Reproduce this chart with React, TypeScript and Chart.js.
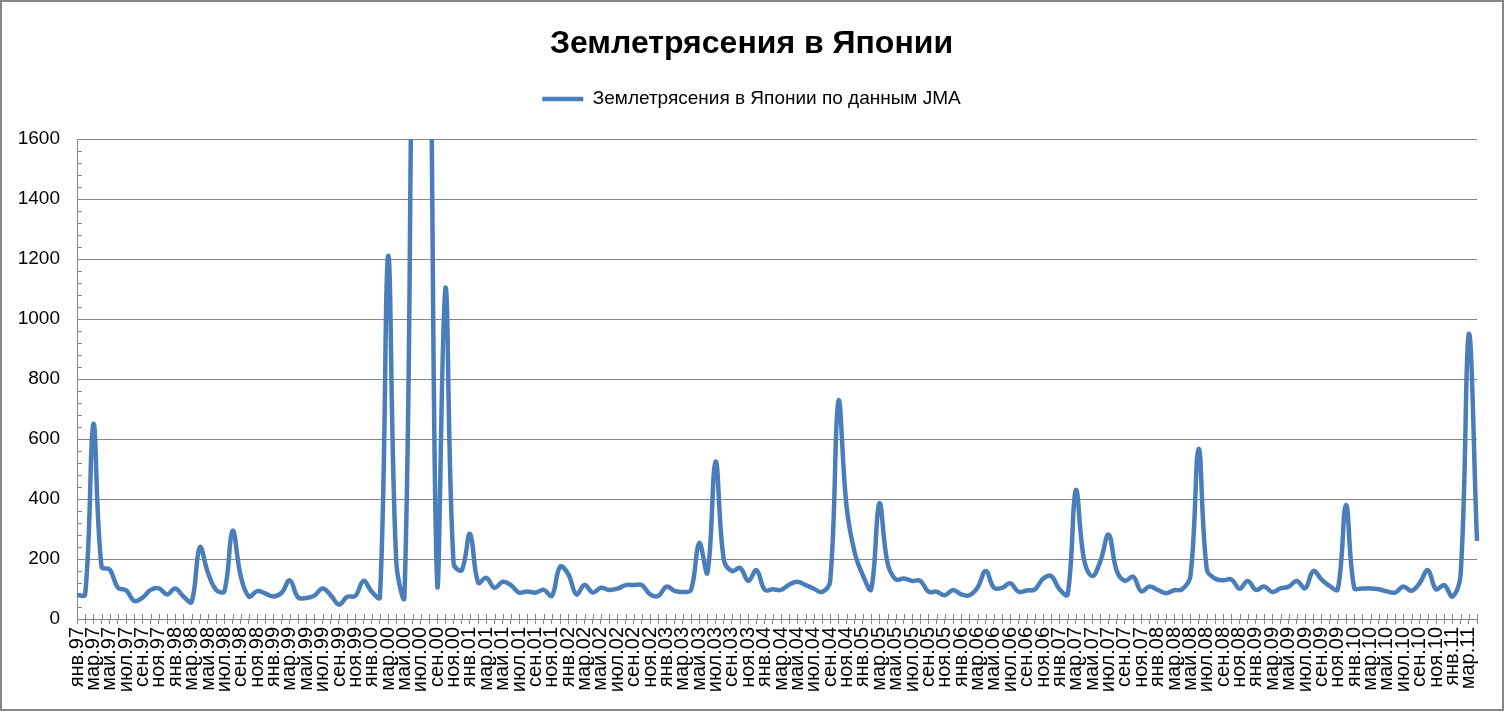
import React, { useEffect, useRef } from 'react';
import { Chart, registerables, layouts } from 'chart.js';

Chart.register(...registerables);

const TITLE = 'Землетрясения в Японии';
const SERIES_NAME = 'Землетрясения в Японии по данным JMA';

const MONTHS = ['янв', 'фев', 'мар', 'апр', 'май', 'июн', 'июл', 'авг', 'сен', 'окт', 'ноя', 'дек'];
const YEARS = ['97', '98', '99', '00', '01', '02', '03', '04', '05', '06', '07', '08', '09', '10', '11'];

const y1997 = [80, 82, 650, 174, 165, 104, 96, 60, 71, 97, 102, 82];
const y1998 = [102, 75, 57, 239, 154, 97, 93, 294, 143, 75, 93, 85];
const y1999 = [75, 88, 129, 72, 70, 78, 102, 79, 48, 74, 77, 127];
const y2000 = [91, 72, 1210, 190, 75, 2100, 3500, 2400, 113, 1105, 185, 163];
const y2001 = [284, 121, 137, 104, 124, 113, 88, 92, 88, 97, 77, 174];
const y2002 = [150, 82, 113, 88, 104, 97, 101, 113, 113, 113, 82, 77];
const y2003 = [108, 94, 90, 97, 253, 154, 525, 198, 160, 170, 127, 163];
const y2004 = [97, 99, 97, 115, 124, 113, 101, 90, 127, 726, 374, 220];
const y2005 = [145, 99, 385, 187, 132, 135, 127, 127, 91, 91, 79, 97];
const y2006 = [82, 79, 105, 160, 104, 104, 119, 91, 95, 99, 134, 143];
const y2007 = [99, 82, 429, 198, 143, 193, 281, 160, 127, 141, 92, 108];
const y2008 = [97, 86, 96, 99, 143, 567, 165, 135, 129, 132, 101, 127];
const y2009 = [97, 108, 90, 102, 108, 127, 102, 160, 132, 110, 99, 380];
const y2010 = [104, 102, 102, 99, 92, 88, 108, 94, 120, 163, 99, 113];
const y2011 = [75, 148, 950, 260];

const VALUES = [
  ...y1997, ...y1998, ...y1999, ...y2000, ...y2001, ...y2002, ...y2003, ...y2004,
  ...y2005, ...y2006, ...y2007, ...y2008, ...y2009, ...y2010, ...y2011,
];

const CATEGORIES: string[] = [];
YEARS.forEach((yy) => MONTHS.forEach((m) => CATEGORIES.push(`${m}.${yy}`)));
CATEGORIES.length = VALUES.length;

const Y_MIN = 0;
const Y_MAX = 1600;
const Y_STEP = 200;
const Y_MINOR = 40;

const AXIS = '#868686';
const LINE = '#4A7EBB';

const minorTicks = {
  id: 'minorTicks',
  beforeDatasetsDraw(chart: any) {
    const { ctx, chartArea, scales } = chart;
    const x = scales.x;
    const y = scales.y;
    ctx.save();
    ctx.strokeStyle = AXIS;
    ctx.lineWidth = 1;
    ctx.beginPath();
    for (let v = Y_MIN; v <= Y_MAX; v += Y_MINOR) {
      const py = Math.round(y.getPixelForValue(v)) + 0.5;
      ctx.moveTo(chartArea.left, py);
      ctx.lineTo(chartArea.left + 5, py);
    }
    for (let i = 0; i < CATEGORIES.length; i++) {
      const px = Math.round(x.getPixelForValue(i)) + 0.5;
      ctx.moveTo(px, chartArea.bottom);
      ctx.lineTo(px, chartArea.bottom - 5);
    }
    ctx.stroke();
    ctx.restore();
  },
};

const frame = {
  id: 'frame',
  beforeDraw(chart: any) {
    const { ctx, width, height } = chart;
    ctx.save();
    ctx.fillStyle = '#ffffff';
    ctx.fillRect(0, 0, width, height);
    ctx.restore();
  },
  afterDraw(chart: any) {
    const { ctx, width, height } = chart;
    ctx.save();
    ctx.strokeStyle = AXIS;
    ctx.lineWidth = 2;
    ctx.strokeRect(1, 1, width - 2, height - 2);
    ctx.restore();
  },
};

function makeSpacer(position: string, size: number, weight: number, fullSize: boolean) {
  const horizontal = position === 'top' || position === 'bottom';
  return {
    position,
    weight,
    fullSize,
    options: {},
    top: 0, left: 0, right: 0, bottom: 0, width: 0, height: 0,
    update(maxWidth: number, maxHeight: number) {
      if (horizontal) {
        this.width = maxWidth;
        this.height = size;
      } else {
        this.width = size;
        this.height = maxHeight;
      }
    },
    isHorizontal() {
      return horizontal;
    },
    draw() {},
  };
}

const spacers = {
  id: 'spacers',
  beforeInit(chart: any) {
    layouts.addBox(chart, makeSpacer('top', 20.6, 500, true) as any);
    layouts.addBox(chart, makeSpacer('right', 12, 0, false) as any);
  },
};

export default function App() {
  const ref = useRef<HTMLCanvasElement | null>(null);

  useEffect(() => {
    document.body.style.margin = '0';
    const canvas = ref.current;
    if (!canvas) return;
    const chart = new Chart(canvas, {
      type: 'line',
      data: {
        labels: CATEGORIES,
        datasets: [
          {
            label: SERIES_NAME,
            data: VALUES,
            borderColor: LINE,
            backgroundColor: LINE,
            borderWidth: 4.5,
            pointRadius: 0,
            pointHoverRadius: 0,
            tension: 0.4,
            fill: false,
            clip: { left: 5, right: 5, top: 0, bottom: 5 } as any,
          },
        ],
      },
      options: {
        animation: false,
        responsive: true,
        maintainAspectRatio: false,
        layout: { padding: { top: 0, right: 13, bottom: 0, left: 12 } },
        plugins: {
          title: {
            display: true,
            text: TITLE,
            color: '#000000',
            font: { family: 'Liberation Sans', size: 32, weight: 'bold' },
            padding: { top: 25, bottom: 16 },
          },
          legend: {
            display: true,
            position: 'top',
            labels: {
              usePointStyle: true,
              pointStyle: 'line',
              pointStyleWidth: 41,
              color: '#000000',
              padding: 10,
              font: { family: 'Liberation Sans', size: 19 },
            },
          },
          tooltip: { enabled: false },
        },
        scales: {
          x: {
            type: 'category',
            offset: false,
            grid: {
              display: true,
              drawOnChartArea: false,
              drawTicks: true,
              tickLength: 5,
              color: AXIS,
            },
            border: { display: true, color: AXIS, width: 1 },
            ticks: {
              autoSkip: false,
              maxRotation: 90,
              minRotation: 90,
              padding: 3,
              color: '#000000',
              font: { family: 'Liberation Sans', size: 20 },
              callback: (_v: any, i: number) => (i % 2 === 0 ? CATEGORIES[i] : ''),
            },
            afterFit: (s: any) => {
              s.height = 92;
            },
          },
          y: {
            min: Y_MIN,
            max: Y_MAX,
            ticks: {
              stepSize: Y_STEP,
              padding: 17,
              color: '#000000',
              font: { family: 'Liberation Sans', size: 19 },
              callback: (v: any) => String(v),
            },
            grid: { color: AXIS, drawTicks: false, lineWidth: 1 },
            border: { display: true, color: AXIS, width: 1 },
            afterFit: (s: any) => {
              s.width = 65;
            },
          },
        },
      },
      plugins: [frame, spacers, minorTicks],
    });
    return () => chart.destroy();
  }, []);

  return (
    <div style={{ position: 'relative', width: 1504, height: 711 }}>
      <canvas ref={ref} />
    </div>
  );
}
